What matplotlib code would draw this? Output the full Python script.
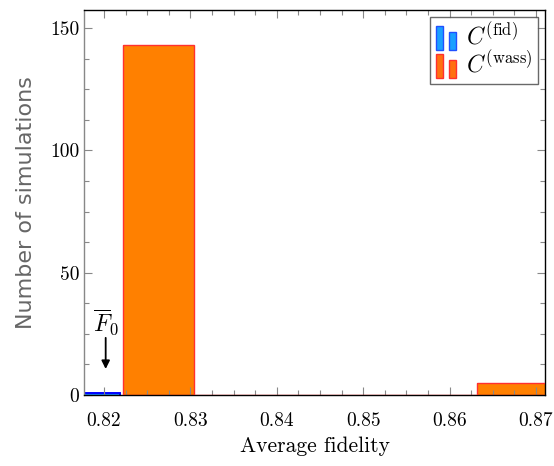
import matplotlib
matplotlib.use("Agg")
import matplotlib.pyplot as plt
from matplotlib.patches import Rectangle
from matplotlib.legend_handler import HandlerBase
from matplotlib.ticker import MultipleLocator
import numpy as np

plt.rcParams['mathtext.fontset'] = 'cm'
plt.rcParams['font.family'] = 'serif'
plt.rcParams['font.serif'] = ['cmr10', 'DejaVu Serif']
plt.rcParams['axes.formatter.use_mathtext'] = True

# Data
wass_edges = [0.8222, 0.8304, 0.8386, 0.8468, 0.8550, 0.8632, 0.8714]
wass_counts = [143, 0, 0, 0, 0, 5]
fid_edges = [0.8140, 0.8219]
fid_counts = [1]
f0 = 0.8202
xticks = [0.82, 0.83, 0.84, 0.85, 0.86, 0.87]
yticks = [0, 50, 100, 150]

fig = plt.figure(figsize=(5.54, 4.66), dpi=100)
ax = fig.add_axes([0.1516, 0.1524, 0.8322, 0.8261])

blue_face = '#1a8cff'
blue_edge = '#0000ff'
orange_face = '#ff8000'
orange_edge = '#ff3030'

ax.stairs(fid_counts, fid_edges, fill=True, facecolor=blue_face, edgecolor=blue_edge, linewidth=1.2)
ax.stairs(fid_counts, fid_edges, fill=False, color=blue_edge, linewidth=1.2)
ax.stairs(wass_counts, wass_edges, fill=True, facecolor=orange_face, edgecolor='none')
for i, c in enumerate(wass_counts):
    ax.add_patch(Rectangle((wass_edges[i], 0), wass_edges[i+1]-wass_edges[i], c,
                           facecolor='none', edgecolor=orange_edge, linewidth=1.0, zorder=3))

ax.set_xlim(0.81769, 0.87104)
ax.set_ylim(0, 157.4)
ax.set_xticks(xticks)
ax.set_xticklabels([f"{t:.2f}" for t in xticks])
ax.set_yticks(yticks)
ax.set_yticklabels([str(t) for t in yticks])
ax.xaxis.set_minor_locator(MultipleLocator(0.0025))
ax.yaxis.set_minor_locator(MultipleLocator(12.5))
ax.tick_params(which='both', direction='in', top=True, right=True, color='#888888', labelsize=14)
ax.tick_params(which='major', length=6, width=0.8)
ax.tick_params(which='minor', length=3.5, width=0.8)
ax.tick_params(axis='x', pad=12)

for s in ['top', 'right', 'bottom']:
    ax.spines[s].set_color('black')
ax.spines['left'].set_color('#888888')
for s in ax.spines.values():
    s.set_linewidth(1.0)

ax.set_xlabel('Average fidelity', fontsize=15.5, labelpad=5)
ax.set_ylabel('Number of simulations', fontsize=16, color='#666666',
              family='DejaVu Sans', labelpad=10)

ax.annotate('', xy=(f0, 9.5), xytext=(f0, 24.5),
            arrowprops=dict(arrowstyle='-|>', color='black', lw=1.3, mutation_scale=12))
ax.text(f0, 23.5, r'$\overline{F}_0$', ha='center', va='bottom', fontsize=17)


class TwoBars(HandlerBase):
    def __init__(self, face, edge):
        super().__init__()
        self.face = face
        self.edge = edge

    def create_artists(self, legend, orig_handle, xdescent, ydescent, width, height, fontsize, trans):
        w = width * 0.36
        y0 = -ydescent - 0.3 * height
        r1 = Rectangle((0.0, y0), w, height * 1.45,
                       facecolor=self.face, edgecolor=self.edge, lw=1.0, transform=trans)
        r2 = Rectangle((0.64 * width, y0), w * 0.9, height * 1.1,
                       facecolor=self.face, edgecolor=self.edge, lw=1.0, transform=trans)
        return [r1, r2]

h1 = Rectangle((0, 0), 1, 1)
h2 = Rectangle((0, 0), 1, 1)
leg = ax.legend([h1, h2], [r'$C^{(\mathrm{fid})}$', r'$C^{(\mathrm{wass})}$'],
                handler_map={h1: TwoBars('#1aa0ff', '#2050ff'), h2: TwoBars('#ff7010', '#ff3030')},
                loc='upper right', fontsize=17, frameon=True, fancybox=False,
                edgecolor='#444444', handlelength=0.85, handletextpad=0.4,
                borderaxespad=0.3, borderpad=0.25, labelspacing=0.0)
leg.get_frame().set_linewidth(1.0)

fig.savefig('out.png', dpi=100)
